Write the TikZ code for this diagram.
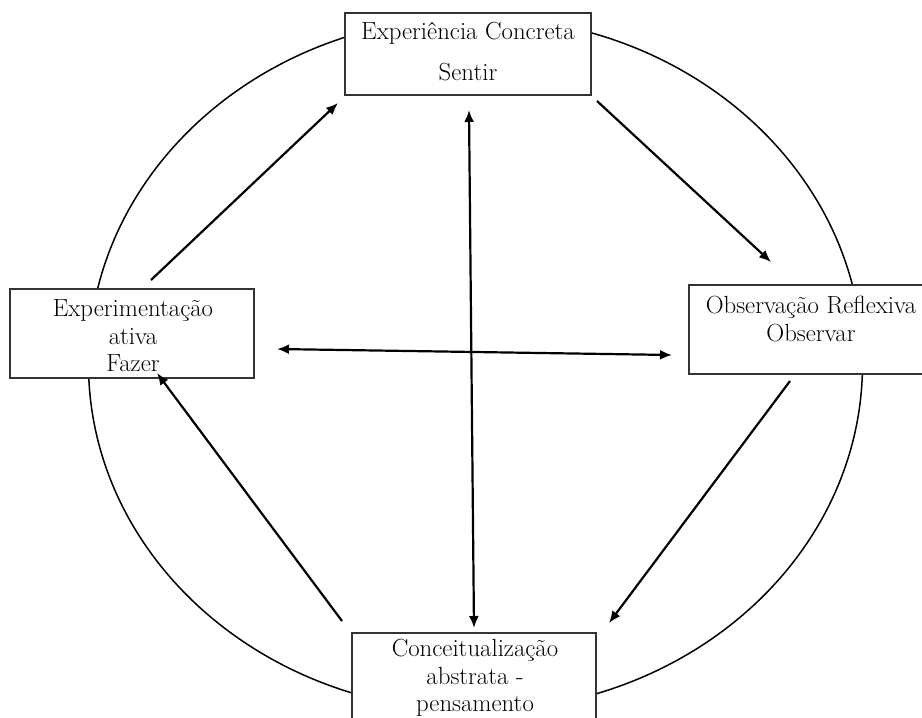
\documentclass[tikz,border=0pt]{standalone}
\usepackage{fontspec}
\usetikzlibrary{arrows.meta}
\begin{document}
\begin{tikzpicture}[x=1pt,y=-1pt,
  box/.style={draw=black!80,line width=1.1pt,fill=white,rectangle,inner sep=0pt},
  lbl/.style={inner sep=0pt,align=center,font=\fontsize{24.8}{27.5}\selectfont},
  flow/.style={line width=2.2pt,-{Latex[length=12pt,width=10pt]}},
  both/.style={line width=2.2pt,{Latex[length=12pt,width=10pt]}-{Latex[length=12pt,width=10pt]}}]
\useasboundingbox (0,0) rectangle (922,718);
\begin{scope}
\clip (0,0) rectangle (922,718);
% learning cycle
\draw[line width=1.5pt] (475.5,364) ellipse [x radius=387,y radius=347];
% stage boxes
\node[box,minimum width=246pt,minimum height=82pt] (ec) at (468,54) {};
\node[box,minimum width=244pt,minimum height=89pt] (ea) at (132,333.5) {};
\node[box,minimum width=244pt,minimum height=89pt] (or) at (811,329.5) {};
\node[box,minimum width=244pt,minimum height=100pt] (ca) at (474,683) {};
\end{scope}
% stage labels
\node[lbl] (ec1) at (468,33) {Experiência Concreta};
\node[lbl] (ec2) at (468,72) {Sentir};
\node[lbl] (ea1) at (133,336) {Experimentação\\ativa\\Fazer};
\node[lbl] (or1) at (811,319) {Observação Reflexiva\\Observar};
\node[lbl] (ca1) at (475,678) {Conceitualização\\abstrata -\\pensamento};
% arrow end points
\coordinate (a1) at (151,280); \coordinate (b1) at (338,103);
\coordinate (a2) at (597,101); \coordinate (b2) at (771,262);
\coordinate (a3) at (790,381); \coordinate (b3) at (609,623);
\coordinate (a4) at (342,621); \coordinate (b4) at (157,373);
\coordinate (v1) at (469,110); \coordinate (v2) at (474,628);
\coordinate (h1) at (277,349); \coordinate (h2) at (672,355);
% cycle arrows
\draw[flow] (a1) -- (b1);
\draw[flow] (a2) -- (b2);
\draw[flow] (a3) -- (b3);
\draw[flow] (a4) -- (b4);
% axes
\draw[both] (v1) -- (v2);
\draw[both] (h1) -- (h2);
\end{tikzpicture}
\end{document}
